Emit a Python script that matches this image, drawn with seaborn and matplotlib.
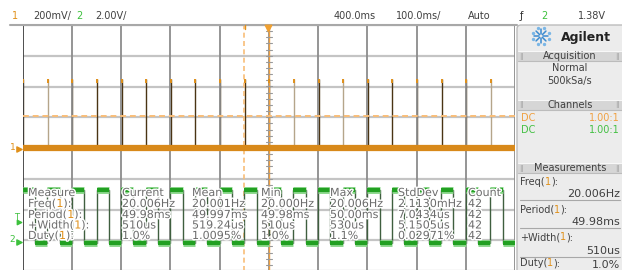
import matplotlib
matplotlib.use('Agg')
import matplotlib.pyplot as plt
import matplotlib.patheffects as pe
from matplotlib.patches import FancyBboxPatch, Rectangle
import numpy as np
import pandas as pd
import seaborn as sns

# ---- data ----
# channel 2 pulse start times (ms); 100 ms/div, centre at 400 ms
pulse_starts = [-100, -50, 0, 50, 100, 150, 200, 250, 300, 350,
                400, 450, 500, 550, 600, 650, 700, 750, 800, 850]
pulse_width = 25          # ms
ch2_high = 3.3            # V
ch2_low = -0.15           # V
# channel 1 spikes at each rising edge (mV)
spike_mv = [446, 446, 446, 446, 446, 446, 446, 446, 446, 446,
            446, 446, 446, 446, 446, 446, 446, 446, 446, 446]
spike_shade = ['d', 'l', 'd', 'd', 'd', 'd', 'd', 'd', 'd', 'd',
               'd', 'l', 'd', 'l', 'd', 'd', 'd', 'd', 'd', 'l']
cursor_mv = 210
cursor_ms = 350

meas_names = ['Freq', 'Period', '+Width', 'Duty']
meas_cols = ['Current', 'Mean', 'Min', 'Max', 'StdDev', 'Count']
meas_current = ['20.006Hz', '49.98ms', '510us', '1.0%']
meas_mean = ['20.001Hz', '49.997ms', '519.24us', '1.0095%']
meas_min = ['20.000Hz', '49.98ms', '510us', '1.0%']
meas_max = ['20.006Hz', '50.00ms', '530us', '1.1%']
meas_std = ['2.1130mHz', '7.0434us', '5.1505us', '0.02971%']
meas_count = ['42', '42', '42', '42']

ch1_scale = 200.0   # mV/div
ch2_scale = 2.0     # V/div
ch2_offset = -3.0   # div

ORANGE = '#e0901a'
GREEN = '#22a022'
GREY = '#6c6c6c'

sns.set_style('white')
plt.rcParams['font.family'] = ['DejaVu Sans']

fig = plt.figure(figsize=(6.22, 2.70), dpi=100)
fig.patch.set_facecolor('white')

ax = fig.add_axes([22.7 / 622, -1 / 270, (515 - 22.7) / 622, 246 / 270])
ax.axis('off')

# grid
for gx in range(-100, 901, 100):
    ax.axvline(gx, color='#404040' if gx == -100 else '#8c8c8c', lw=1.3, zorder=3)
for gy in range(-4, 5):
    ax.axhline(gy, color='#c4c4c4', lw=1.6, zorder=1)
# centre axis with minor ticks
ax.axvline(400, color='#f0a040', lw=1.0, zorder=3)
for yy in np.arange(-4, 4.01, 0.2):
    ax.plot([394, 406], [yy, yy], color='#9a9a9a', lw=0.8, zorder=3)

# channel 2 square wave
starts = np.array(pulse_starts, dtype=float)
wave = pd.DataFrame({
    't': np.concatenate([np.column_stack([starts, starts + pulse_width]).ravel(), [900]]),
    'v': np.concatenate([np.tile([ch2_high, ch2_low], len(starts)), [ch2_low]]),
})
wave['div'] = wave['v'] / ch2_scale + ch2_offset
sns.lineplot(data=wave, x='t', y='div', ax=ax, drawstyle='steps-post',
             estimator=None, sort=False, color='#3f5f3f', lw=1.0, zorder=4)
hi = np.full(len(starts), ch2_high / ch2_scale + ch2_offset)
lo = np.full(len(starts), ch2_low / ch2_scale + ch2_offset)
ax.hlines(hi, starts, starts + pulse_width, color='#8fd88f', lw=5, zorder=4)
ax.hlines(hi, starts, starts + pulse_width, color=GREEN, lw=3, zorder=4)
ax.hlines(lo, starts + pulse_width, starts + 50, color='#8fd88f', lw=5, zorder=4)
ax.hlines(lo, starts + pulse_width, starts + 50, color=GREEN, lw=3, zorder=4)

# channel 1 baseline and spikes
ax.axhline(0, color='#d8891a', lw=4.5, zorder=5)
for s, h, sh in zip(pulse_starts, spike_mv, spike_shade):
    ax.vlines(s + 1, 0, h / ch1_scale, color='#4a3414' if sh == 'd' else '#b5a58a',
              lw=1.0, zorder=2)
    ax.vlines(s + 1, h / ch1_scale - 0.12, h / ch1_scale, color=ORANGE, lw=1.4, zorder=4)

# cursors
ax.axhline(cursor_mv / ch1_scale, color='#f8bd78', lw=1.4, ls=(0, (3, 2)), zorder=3)
ax.axvline(cursor_ms, color='#f8bd78', lw=1.2, ls=(0, (3, 2)), zorder=3)

ax.set_xlim(-100, 900)
ax.set_ylim(-4, 4)
ax.axis('off')

# ---- overlay in pixel coordinates ----
ov = fig.add_axes([0, 0, 1, 1], zorder=10)
ov.set_xlim(0, 622)
ov.set_ylim(270, 0)
ov.axis('off')

halo = [pe.withStroke(linewidth=2, foreground='white')]


def rich(a, x, y, parts, size=7, effects=None, **kw):
    t = a.text(x, y, parts[0][0], color=parts[0][1], va='center', ha='left',
               fontsize=size, path_effects=effects, **kw)
    for s, c in parts[1:]:
        t = a.annotate(s, xycoords=t, xy=(1, 0), va='bottom', ha='left', color=c,
                       fontsize=size, path_effects=effects, **kw)
    return t


# top bar
ov.plot([10, 517], [25, 25], color='#a8a8a8', lw=1.5)
ov.text(15, 16, '1', color=ORANGE, fontsize=7, ha='center', va='center')
ov.text(33, 16, '200mV/', color='#404040', fontsize=7, va='center')
ov.text(79, 16, '2', color='#3cc03c', fontsize=7, ha='center', va='center')
ov.text(95, 16, '2.00V/', color='#404040', fontsize=7, va='center')
ov.text(334, 16, '400.0ms', color='#404040', fontsize=7, va='center')
ov.text(396, 16, '100.0ms/', color='#404040', fontsize=7, va='center')
ov.text(468, 16, 'Auto', color='#404040', fontsize=7, va='center')
ov.text(521, 16, 'ƒ', color='#303030', fontsize=7, ha='center', va='center')
ov.text(544, 16, '2', color='#3cc03c', fontsize=7, ha='center', va='center')
ov.text(578, 16, '1.38V', color='#404040', fontsize=7, va='center')
ov.scatter([268], [27.5], marker='v', s=22, color='#f0a030', zorder=12)
ov.plot([245, 245], [25, 29], color=ORANGE, lw=1)

# channel markers on the left
ov.text(13, 147, '1', color=ORANGE, fontsize=6.5, ha='center', va='center')
ov.scatter([19], [149], marker='>', s=14, color=ORANGE)
ov.text(17, 218, 'T', color='#3cc03c', fontsize=6, ha='center', va='center')
ov.scatter([19], [222], marker='>', s=10, color='#3cc03c')
ov.text(12, 240, '2', color='#3cc03c', fontsize=6.5, ha='center', va='center')
ov.scatter([19], [242], marker='>', s=14, color='#3cc03c')

# measurement overlay
col_x = [122, 192, 261, 330, 398, 468]
col_vals = [meas_current, meas_mean, meas_min, meas_max, meas_std, meas_count]
row_y = [193, 204, 215, 225.5, 236]
ov.text(28, row_y[0], 'Measure', color=GREY, fontsize=8, va='center', path_effects=halo)
for i, name in enumerate(meas_names):
    rich(ov, 28, row_y[i + 1], [(name + '(', GREY), ('1', ORANGE), ('):', GREY)],
         size=8, effects=halo)
for cx, head, vals in zip(col_x, meas_cols, col_vals):
    ov.text(cx, row_y[0], head, color=GREY, fontsize=8, va='center', path_effects=halo)
    for i, v in enumerate(vals):
        ov.text(cx, row_y[i + 1], v, color=GREY, fontsize=8, va='center', path_effects=halo)

# right panel
ov.add_patch(FancyBboxPatch((517, 25), 120, 260, boxstyle='round,pad=0,rounding_size=4',
                            facecolor='#ececec', edgecolor='#bcbcbc', lw=1))
# logo
for ang in np.arange(0, 2 * np.pi, np.pi / 4):
    ov.plot([541 + 2 * np.cos(ang), 541 + 7 * np.cos(ang)],
            [36 + 2 * np.sin(ang), 36 + 7 * np.sin(ang)], color='#3a8ad0', lw=1.1)
    ov.scatter([541 + 8.5 * np.cos(ang + np.pi / 8)], [36 + 8.5 * np.sin(ang + np.pi / 8)],
               s=2, color='#7ab6e6')
ov.text(586, 37, 'Agilent', fontsize=9, fontweight='bold', color='#222222',
        ha='center', va='center')


def header(y, label):
    ov.add_patch(Rectangle((518, y - 5), 104, 10, facecolor='#d6d6d6',
                           edgecolor='none'))
    ov.plot([518, 622], [y - 5, y - 5], color='#f8f8f8', lw=0.8)
    ov.plot([518, 622], [y + 5, y + 5], color='#bcbcbc', lw=0.8)
    ov.text(570, y, label, fontsize=7, color='#404040', ha='center', va='center')
    ov.text(522, y, '||', fontsize=5, color='#a0a0a0', ha='center', va='center')
    ov.text(617, y, '||', fontsize=5, color='#a0a0a0', ha='center', va='center')


header(56, 'Acquisition')
ov.text(570, 68, 'Normal', fontsize=7, color='#404040', ha='center', va='center')
ov.text(570, 81, '500kSa/s', fontsize=7, color='#404040', ha='center', va='center')
header(105, 'Channels')
ov.text(521, 118, 'DC', fontsize=7, color='#f0a040', va='center')
ov.text(620, 118, '1.00:1', fontsize=7, color='#f0a040', va='center', ha='right')
ov.text(521, 130, 'DC', fontsize=7, color='#44c044', va='center')
ov.text(620, 130, '1.00:1', fontsize=7, color='#44c044', va='center', ha='right')
header(168, 'Measurements')

panel_label_y = [182, 210, 237, 263]
panel_value_y = [194, 222, 251, 265.5]
panel_values = meas_current
for k, (name, ly, vy, val) in enumerate(zip(meas_names, panel_label_y, panel_value_y,
                                             panel_values)):
    rich(ov, 520, ly, [(name + '(', '#404040'), ('1', ORANGE), ('):', '#404040')], size=7)
    ov.text(620, vy, val, fontsize=8, color='#404040', ha='right', va='center')
    if k < 3:
        ov.plot([520, 620], [vy + 6, vy + 6], color='#a8a8a8', lw=0.8)

fig.savefig('out.png', dpi=100, facecolor='white')
